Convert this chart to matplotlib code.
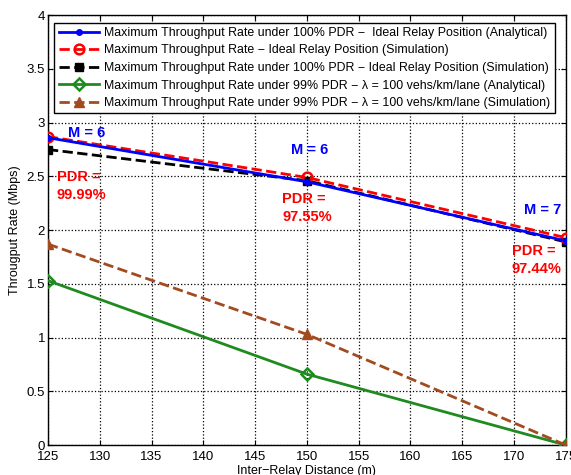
import numpy as np
import matplotlib
matplotlib.use('Agg')
import matplotlib.pyplot as plt
from matplotlib.ticker import FuncFormatter

plt.rcParams['font.family'] = ['Liberation Sans', 'DejaVu Sans']

# data
distance = [125, 150, 175]
ana_100 = [2.86, 2.45, 1.90]
sim_ideal = [2.87, 2.49, 1.93]
sim_100 = [2.75, 2.46, 1.89]
ana_99 = [1.53, 0.66, 0.0]
sim_99 = [1.87, 1.03, 0.0]

labels = [
    'Maximum Throughput Rate under 100% PDR \u2212  Ideal Relay Position (Analytical)',
    'Maximum Throughput Rate \u2212 Ideal Relay Position (Simulation)',
    'Maximum Throughput Rate under 100% PDR \u2212 Ideal Relay Position (Simulation)',
    'Maximum Throughput Rate under 99% PDR \u2212 \u03bb = 100 vehs/km/lane (Analytical)',
    'Maximum Throughput Rate under 99% PDR \u2212 \u03bb = 100 vehs/km/lane (Simulation)',
]

m_labels = ['M = 6', 'M = 6', 'M = 7']
pdr_labels = ['PDR =\n99.99%', 'PDR =\n97.55%', 'PDR =\n97.44%']
m_pos = [(126.9, 2.90), (148.45, 2.745), (171.0, 2.19)]
pdr_pos = [(125.85, 2.41), (147.6, 2.205), (169.8, 1.72)]

green = '#1f8a1f'
brown = '#a34a1f'

fig = plt.figure(figsize=(5.71, 4.75), dpi=100)
ax = fig.add_axes([0.084, 0.063, 0.907, 0.905])

ax.plot(distance, ana_100, '-', color='blue', lw=2, marker='o', ms=4,
        label=labels[0], zorder=5)
ax.plot(distance, sim_ideal, '--', color='red', lw=2, marker='o', ms=7,
        mfc='none', mew=1.8, label=labels[1], zorder=4)
ax.plot(distance, sim_100, '--', color='black', lw=2, marker='s', ms=6,
        label=labels[2], zorder=3)
ax.plot(distance, ana_99, '-', color=green, lw=2, marker='D', ms=6,
        mfc='none', mew=1.8, label=labels[3], zorder=3)
ax.plot(distance, sim_99, '--', color=brown, lw=2, marker='^', ms=7,
        label=labels[4], zorder=3)

ax.set_xlim(125, 175)
ax.set_ylim(0, 4)
ax.set_xticks(np.arange(125, 176, 5))
ax.set_yticks(np.arange(0, 4.01, 0.5))
ax.yaxis.set_major_formatter(FuncFormatter(lambda v, p: f'{v:g}'))
ax.tick_params(direction='in', top=True, right=True, labelsize=9.5, pad=2)
ax.tick_params(axis='x', pad=4)
ax.grid(True, linestyle=':', color='black', lw=0.9)
for s in ax.spines.values():
    s.set_linewidth(1)

ax.set_xlabel('Inter\u2212Relay Distance (m)', fontsize=9, labelpad=2)
ax.set_ylabel('Througput Rate (Mbps)', fontsize=9, labelpad=4)

# annotations
for txt, (x, y) in zip(m_labels, m_pos):
    ax.text(x, y, txt, color='blue', fontsize=10.5, fontweight='bold',
            va='center')
for txt, (x, y) in zip(pdr_labels, pdr_pos):
    ax.text(x, y, txt, color='red', fontsize=10.5, fontweight='bold',
            va='center', linespacing=1.4)

leg = ax.legend(loc='upper left', bbox_to_anchor=(0.012, 0.983), fontsize=8.9,
                handlelength=3.3, handletextpad=0.4, borderpad=0.35,
                labelspacing=0.45, fancybox=False, framealpha=1,
                borderaxespad=0)
leg.get_frame().set_edgecolor('black')
leg.get_frame().set_linewidth(1)

fig.savefig('out.png', dpi=100)
